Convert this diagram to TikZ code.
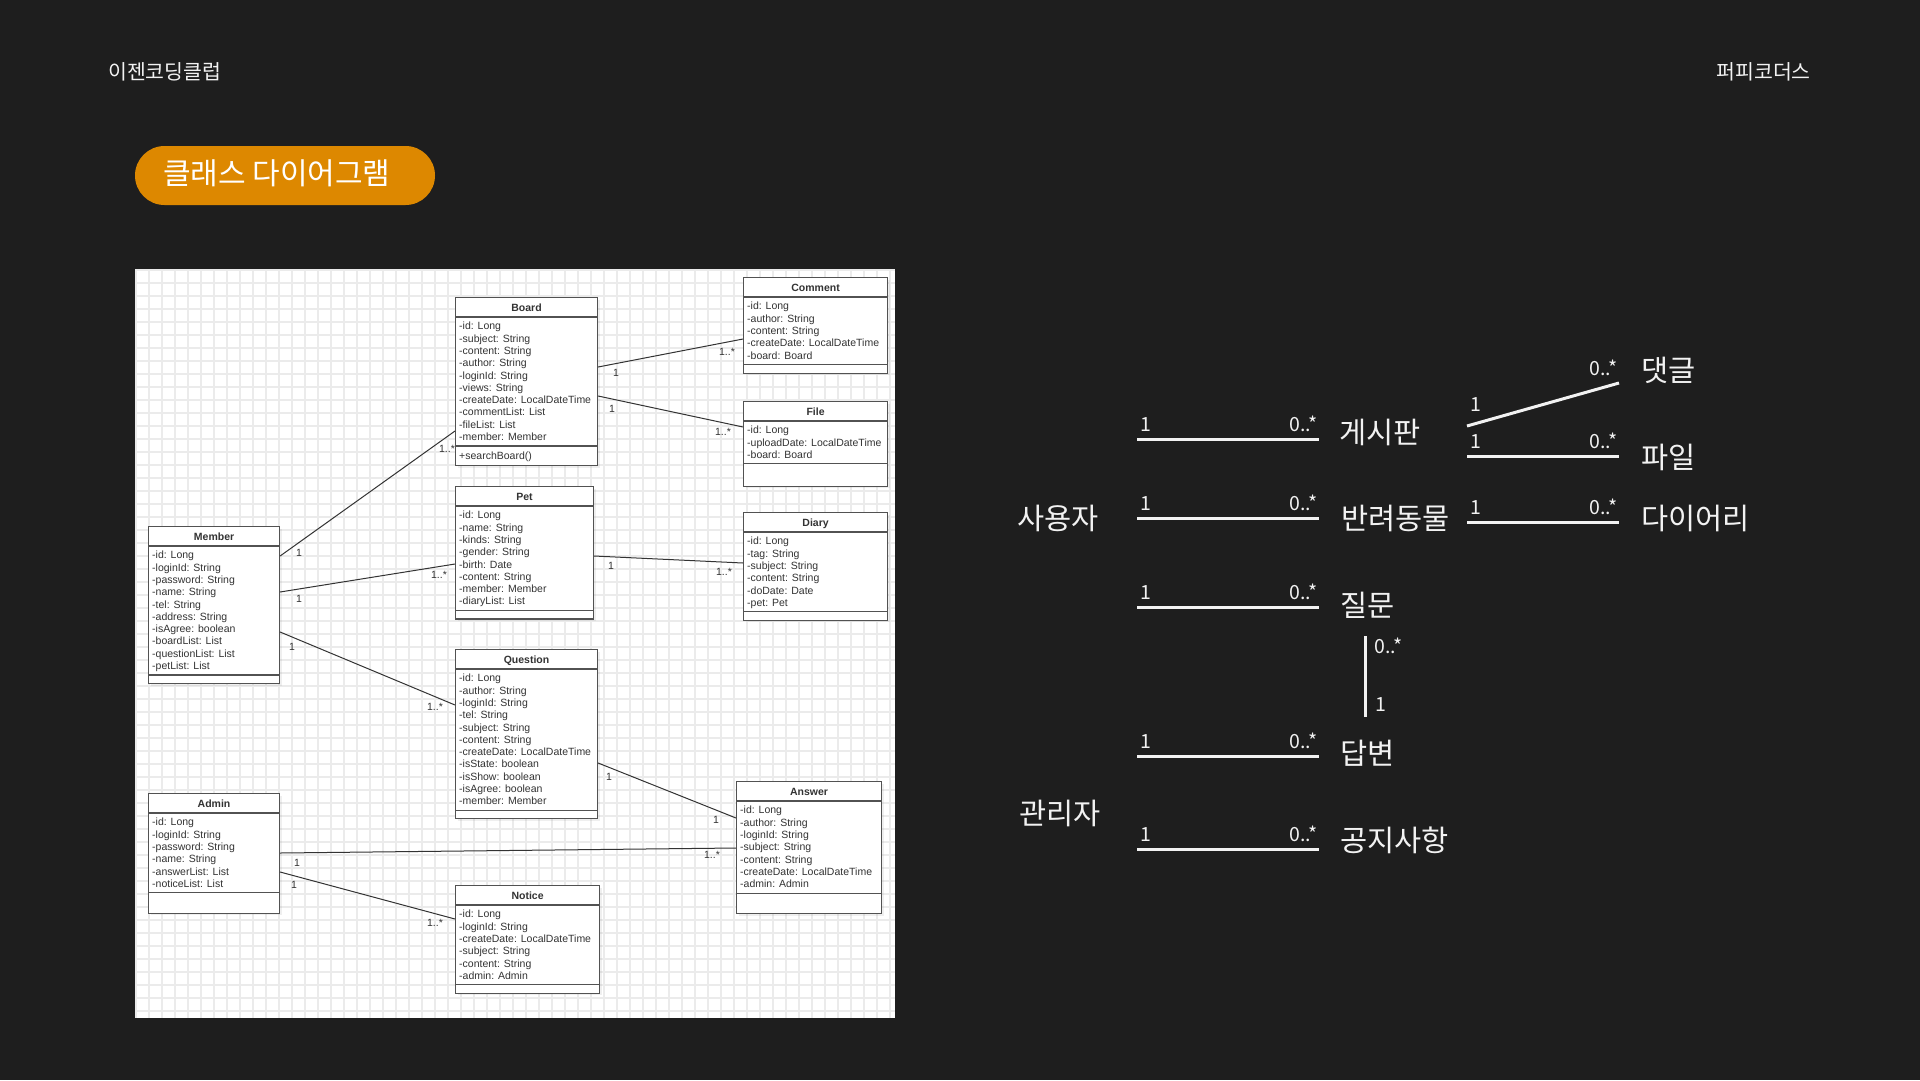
\documentclass[tikz,border=0pt]{standalone}
\usepackage{fontspec}
\setmainfont{Liberation Sans}
\newfontfamily\krfont{Noto Sans CJK KR}
\newfontfamily\umlfont{Liberation Sans}
\usetikzlibrary{calc,shadows}

\definecolor{slidebg}{HTML}{1E1E1E}
\definecolor{pillorange}{HTML}{DD8800}
\definecolor{gridgray}{HTML}{EBEBEB}
\definecolor{umlink}{HTML}{333333}
\definecolor{chalk}{HTML}{F2F2F2}

\tikzset{
  classbox/.style={draw=umlink!85, line width=1.1pt, fill=white, inner sep=0,
    drop shadow={shadow xshift=2pt, shadow yshift=-2pt, opacity=0.12}},
  classtitle/.style={font=\umlfont\bfseries\fontsize{10.5}{12}\selectfont, text=umlink, inner sep=0, anchor=base},
  classattr/.style={font=\umlfont\fontsize{10.5}{12}\selectfont, text=umlink, inner sep=0, anchor=base west},
  classline/.style={draw=umlink!85, line width=1.1pt},
  umllink/.style={draw=umlink, line width=1pt},
  mult/.style={font=\umlfont\fontsize{10.5}{12}\selectfont, text=umlink, inner sep=0},
  header/.style={font=\krfont\fontsize{20.5}{24}\selectfont, text=chalk, inner sep=0},
  pill/.style={fill=pillorange, minimum width=300, minimum height=59, rounded corners=29.5, inner sep=0},
  pilltext/.style={font=\krfont\fontsize{30}{33}\selectfont, text=white, inner sep=0, anchor=west},
  entity/.style={font=\krfont\fontsize{29.5}{32}\selectfont, text=chalk, inner sep=0, anchor=west},
  assoc/.style={draw=chalk, line width=3pt},
  kmult/.style={font=\krfont\fontsize{19.5}{22}\selectfont, text=chalk, inner xsep=2pt, inner ysep=6pt},
}

% name, x, y, width, title, number of attributes, attributes, lower part height
\newcommand{\umlclass}[8]{%
  \pgfmathsetmacro{\classh}{26+#6*12.3+#8}%
  \pgfmathsetmacro{\classdiv}{26+#6*12.3}%
  \node[classbox, minimum width=#4, minimum height=\classh, anchor=north west] (#1) at (#2,#3) {};
  \node[classtitle] (#1-title) at ($(#1.north)+(0,14)$) {#5};
  \draw[classline] ($(#1.north west)+(0,20)$) -- ($(#1.north east)+(0,20)$);
  \draw[classline] ($(#1.north west)+(0,\classdiv)$) -- ($(#1.north east)+(0,\classdiv)$);
  \foreach \a [count=\i] in {#7}
    \node[classattr] (#1-a\i) at ($(#1.north west)+(4,{32.8+(\i-1)*12.3})$) {\a};
}

\begin{document}
\begin{tikzpicture}[x=1pt, y=-1pt]
  \fill[slidebg] (0,0) rectangle (1920,1080);
  \useasboundingbox (0,0) rectangle (1920,1080);

  % header
  \node[header, anchor=west] (club) at (108,72) {이젠코딩클럽};
  \node[header, anchor=east] (team) at (1811,72) {퍼피코더스};
  \node[pill] (pill) at (285,175.5) {};
  \node[pilltext] (pill-text) at ($(pill.west)+(28,-2.5)$) {클래스 다이어그램};

  % uml panel
  \fill[white] (135,269) rectangle (895,1018);
  \foreach \gx in {136,149,...,895}
    \draw[gridgray, line width=1.2pt] (\gx,269) -- (\gx,1018);
  \foreach \gy in {270,283,...,1018}
    \draw[gridgray, line width=1.2pt] (135,\gy) -- (895,\gy);

  \umlclass{board}{455}{297}{142}{Board}{10}{-id: Long, -subject: String, -content: String, -author: String, -loginId: String, -views: String, -createDate: LocalDateTime, -commentList: List, -fileList: List, -member: Member}{19}
  \node[classattr] (board-m1) at ($(board.north west)+(4,162)$) {+searchBoard()};
  \umlclass{comment}{743}{277}{144}{Comment}{5}{-id: Long, -author: String, -content: String, -createDate: LocalDateTime, -board: Board}{8}
  \umlclass{file}{743}{401}{144}{File}{3}{-id: Long, -uploadDate: LocalDateTime, -board: Board}{22}
  \umlclass{pet}{455}{486}{138}{Pet}{8}{-id: Long, -name: String, -kinds: String, -gender: String, -birth: Date, -content: String, -member: Member, -diaryList: List}{8}
  \umlclass{diary}{743}{512}{144}{Diary}{6}{-id: Long, -tag: String, -subject: String, -content: String, -doDate: Date, -pet: Pet}{8}
  \umlclass{member}{148}{526}{131}{Member}{10}{-id: Long, -loginId: String, -password: String, -name: String, -tel: String, -address: String, -isAgree: boolean, -boardList: List, -questionList: List, -petList: List}{8}
  \umlclass{question}{455}{649}{142}{Question}{11}{-id: Long, -author: String, -loginId: String, -tel: String, -subject: String, -content: String, -createDate: LocalDateTime, -isState: boolean, -isShow: boolean, -isAgree: boolean, -member: Member}{8}
  \umlclass{answer}{736}{781}{145}{Answer}{7}{-id: Long, -author: String, -loginId: String, -subject: String, -content: String, -createDate: LocalDateTime, -admin: Admin}{20}
  \umlclass{admin}{148}{793}{131}{Admin}{6}{-id: Long, -loginId: String, -password: String, -name: String, -answerList: List, -noticeList: List}{20}
  \umlclass{notice}{455}{885}{144}{Notice}{6}{-id: Long, -loginId: String, -createDate: LocalDateTime, -subject: String, -content: String, -admin: Admin}{8}

  \draw[umllink] ($(member.north east)+(0,30)$) -- ($(board.north west)+(0,134)$);
  \draw[umllink] ($(member.north east)+(0,66)$) -- ($(pet.north west)+(0,78)$);
  \draw[umllink] ($(member.north east)+(0,106)$) -- ($(question.north west)+(0,56)$);
  \draw[umllink] ($(admin.north east)+(0,60)$) -- ($(answer.north west)+(0,67)$);
  \draw[umllink] ($(admin.north east)+(0,79)$) -- ($(notice.north west)+(0,34)$);
  \draw[umllink] ($(question.north east)+(0,114)$) -- ($(answer.north west)+(0,37)$);
  \draw[umllink] ($(board.north east)+(0,70)$) -- ($(comment.north west)+(0,62)$);
  \draw[umllink] ($(board.north east)+(0,99)$) -- ($(file.north west)+(0,26)$);
  \draw[umllink] ($(pet.north east)+(0,70)$) -- ($(diary.north west)+(0,51)$);

  \node[mult] (mb-1) at (299,553) {1};
  \node[mult] (mb-n) at (447,449) {1..*};
  \node[mult] (mp-1) at (299,599) {1};
  \node[mult] (mp-n) at (439,575) {1..*};
  \node[mult] (mq-1) at (292,647) {1};
  \node[mult] (mq-n) at (435,707) {1..*};
  \node[mult] (aa-1) at (297,863) {1};
  \node[mult] (aa-n) at (712,855) {1..*};
  \node[mult] (an-1) at (294,885) {1};
  \node[mult] (an-n) at (435,923) {1..*};
  \node[mult] (qa-1) at (609,777) {1};
  \node[mult] (qa-2) at (716,820) {1};
  \node[mult] (bc-1) at (616,373) {1};
  \node[mult] (bc-n) at (727,352) {1..*};
  \node[mult] (bf-1) at (612,409) {1};
  \node[mult] (bf-n) at (723,432) {1..*};
  \node[mult] (pd-1) at (611,566) {1};
  \node[mult] (pd-n) at (724,572) {1..*};

  % summary on the right
  \node[entity] (e-user) at (1017,518) {사용자};
  \node[entity] (e-board) at (1339,432) {게시판};
  \node[entity] (e-comment) at (1641,370) {댓글};
  \node[entity] (e-file) at (1641,457) {파일};
  \node[entity] (e-pet) at (1341,518) {반려동물};
  \node[entity] (e-diary) at (1641,518) {다이어리};
  \node[entity] (e-question) at (1340,605) {질문};
  \node[entity] (e-answer) at (1340,753) {답변};
  \node[entity] (e-admin) at (1019,813) {관리자};
  \node[entity] (e-notice) at (1340,840) {공지사항};

  \coordinate (ub-a) at (1137,439); \coordinate (ub-b) at (1319,439);
  \coordinate (up-a) at (1137,518); \coordinate (up-b) at (1319,518);
  \coordinate (uq-a) at (1137,607); \coordinate (uq-b) at (1319,607);
  \coordinate (aa-a) at (1137,756); \coordinate (aa-b) at (1319,756);
  \coordinate (an-a) at (1137,849); \coordinate (an-b) at (1319,849);
  \coordinate (bc-a) at (1467,426); \coordinate (bc-b) at (1619,383);
  \coordinate (bf-a) at (1467,456); \coordinate (bf-b) at (1619,456);
  \coordinate (pd-a) at (1467,522); \coordinate (pd-b) at (1619,522);
  \coordinate (qa-a) at (1365,636); \coordinate (qa-b) at (1365,717);

  \draw[assoc] (ub-a) -- node[kmult, pos=0, anchor=south west] (kub-1) {1} node[kmult, pos=1, anchor=south east, inner xsep=0] (kub-n) {0..*} (ub-b);
  \draw[assoc] (up-a) -- node[kmult, pos=0, anchor=south west] (kup-1) {1} node[kmult, pos=1, anchor=south east, inner xsep=0] (kup-n) {0..*} (up-b);
  \draw[assoc] (uq-a) -- node[kmult, pos=0, anchor=south west] (kuq-1) {1} node[kmult, pos=1, anchor=south east, inner xsep=0] (kuq-n) {0..*} (uq-b);
  \draw[assoc] (aa-a) -- node[kmult, pos=0, anchor=south west] (kaa-1) {1} node[kmult, pos=1, anchor=south east, inner xsep=0] (kaa-n) {0..*} (aa-b);
  \draw[assoc] (an-a) -- node[kmult, pos=0, anchor=south west] (kan-1) {1} node[kmult, pos=1, anchor=south east, inner xsep=0] (kan-n) {0..*} (an-b);
  \draw[assoc] (bc-a) -- node[kmult, pos=0, anchor=south west, inner ysep=13pt] (kbc-1) {1} node[kmult, pos=1, anchor=south east, inner xsep=0] (kbc-n) {0..*} (bc-b);
  \draw[assoc] (bf-a) -- node[kmult, pos=0, anchor=south west] (kbf-1) {1} node[kmult, pos=1, anchor=south east, inner xsep=0] (kbf-n) {0..*} (bf-b);
  \draw[assoc] (pd-a) -- node[kmult, pos=0, anchor=south west] (kpd-1) {1} node[kmult, pos=1, anchor=south east, inner xsep=0] (kpd-n) {0..*} (pd-b);
  \draw[assoc] (qa-a) -- node[kmult, pos=0, anchor=north west, inner xsep=8pt, inner ysep=0] (kqa-n) {0..*} node[kmult, pos=1, anchor=south west, inner xsep=9pt, inner ysep=4pt] (kqa-1) {1} (qa-b);
\end{tikzpicture}
\end{document}
